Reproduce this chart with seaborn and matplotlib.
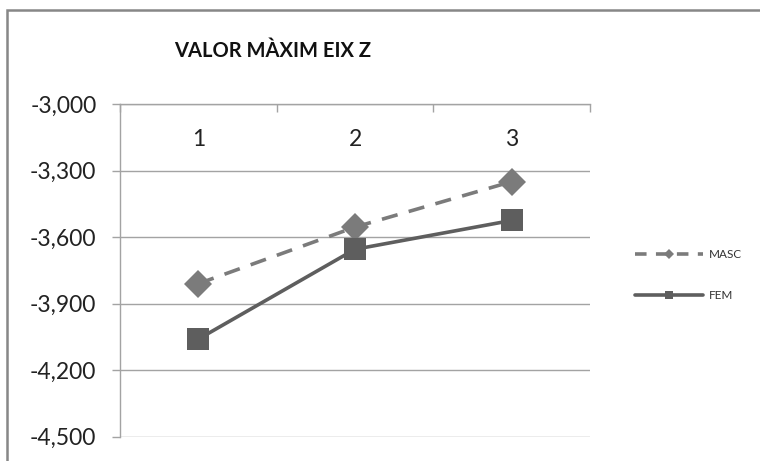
import matplotlib
matplotlib.use("Agg")
import matplotlib.pyplot as plt
from matplotlib.patches import Rectangle
from matplotlib.lines import Line2D
from matplotlib.ticker import FuncFormatter, FixedLocator
import seaborn as sns
import pandas as pd

# Chart data
categories = ["1", "2", "3"]
masc = [-3810, -3555, -3350]
fem = [-4060, -3655, -3525]
series_names = ["MASC", "FEM"]
y_ticks = [-3000, -3300, -3600, -3900, -4200, -4500]
title = "VALOR MÀXIM EIX Z"

rows = []
for name, vals in zip(series_names, [masc, fem]):
    for i, v in enumerate(vals):
        rows.append({"pos": i, "value": v, "serie": name})
df = pd.DataFrame(rows)

sns.set_theme(style="white")
plt.rcParams["font.family"] = ["Lato", "DejaVu Sans"]

W, H = 760, 461
fig = plt.figure(figsize=(W / 100, H / 100), dpi=100)
left, right, top, bottom = 120, 590, 104, 436.7
ax = fig.add_axes([left / W, 1 - bottom / H, (right - left) / W, (bottom - top) / H])

grid_c = "#a3a3a3"
c_masc, c_fem = "#7b7b7b", "#5e5e5e"
sns.lineplot(
    data=df, x="pos", y="value", hue="serie", style="serie",
    hue_order=series_names, style_order=series_names,
    palette={"MASC": c_masc, "FEM": c_fem},
    dashes={"MASC": (4.5, 3.2), "FEM": ""},
    markers={"MASC": "D", "FEM": "s"},
    ax=ax, linewidth=2.6, markersize=14, markeredgewidth=0, legend=False,
    zorder=3,
)
for line, ms in zip(ax.get_lines(), [14.5, 15.5]):
    line.set_markersize(ms)
    line.set_markeredgewidth(0)

ax.set_xlim(-0.5, len(categories) - 0.5)
ax.set_ylim(min(y_ticks), max(y_ticks))
ax.set_xlabel("")
ax.set_ylabel("")

# value axis
ax.yaxis.set_major_locator(FixedLocator(y_ticks))
ax.yaxis.set_major_formatter(FuncFormatter(lambda v, p: f"{v:,.0f}"))
ax.tick_params(axis="y", direction="out", length=6, width=1, color=grid_c,
               labelsize=16.5, labelcolor="#222222", pad=11, left=True)
ax.grid(axis="y", color=grid_c, linewidth=1)
ax.grid(axis="x", visible=False)

# category axis along the top, labels inside the plot
ax.set_xticks(range(len(categories)))
ax.set_xticklabels(categories)
ax.xaxis.set_minor_locator(FixedLocator([i - 0.5 for i in range(len(categories) + 1)]))
ax.tick_params(axis="x", which="major", top=True, bottom=False, labeltop=True,
               labelbottom=False, length=0, labelsize=16.5, labelcolor="#222222", pad=-33)
ax.tick_params(axis="x", which="minor", top=True, bottom=False, direction="in",
               length=6, width=1, color=grid_c)

for s in ["right", "bottom"]:
    ax.spines[s].set_visible(False)
for s in ["left", "top"]:
    ax.spines[s].set_color(grid_c)
    ax.spines[s].set_linewidth(1)

# legend
leg_handles = [
    Line2D([], [], color=c_masc, lw=2.6, dashes=(3.2, 2.6), marker="D", markersize=5, markeredgewidth=0),
    Line2D([], [], color=c_fem, lw=2.6, marker="s", markersize=6, markeredgewidth=0),
]
fig.legend(leg_handles, series_names, loc="center left",
           bbox_to_anchor=(624 / W, 1 - 275 / H), frameon=False,
           fontsize=8.5, handlelength=5.8, labelspacing=2.5, handletextpad=0.5,
           labelcolor="#333333")

fig.text((185 + 361) / 2 / W, 1 - 51 / H, title, ha="center", va="center",
         fontsize=14.5, fontweight="bold", color="#111111")

# chart border
fig.add_artist(Rectangle((7 / W, -0.1), 1.2, 1.1 - 10 / H, transform=fig.transFigure,
                         fill=False, edgecolor="#878787", linewidth=1.8))

fig.savefig("out.png", dpi=100)
